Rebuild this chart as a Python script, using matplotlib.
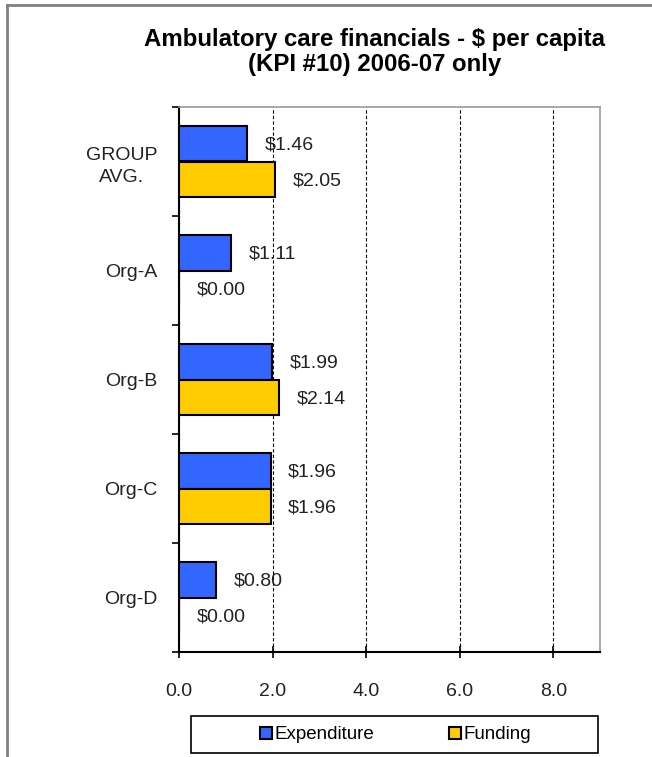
import numpy as np
import matplotlib.pyplot as plt
from matplotlib.lines import Line2D
from matplotlib.patches import Rectangle

categories = ["GROUP\nAVG.", "Org-A", "Org-B", "Org-C", "Org-D"]
expenditure = [1.46, 1.11, 1.99, 1.96, 0.80]
funding = [2.05, 0.00, 2.14, 1.96, 0.00]
series_names = ["Expenditure", "Funding"]
colors = ["#3366FF", "#FFCC00"]

plt.rcParams['font.family'] = ['Liberation Sans', 'DejaVu Sans']

fig = plt.figure(figsize=(6.52, 7.57), dpi=100)
ax = fig.add_axes([179/652, 1 - 652/757, 421/652, 545/757])

y = np.arange(len(categories))
h = 0.33
ax.barh(y - h/2, expenditure, height=h, color=colors[0], edgecolor='black', linewidth=1.5, zorder=3)
ax.barh(y + h/2, funding, height=h, color=colors[1], edgecolor='black', linewidth=1.5, zorder=3)

# value labels to the right of each bar
for i in range(len(categories)):
    ax.annotate("$%.2f" % expenditure[i], (expenditure[i], y[i] - h/2), xytext=(12.5, -1),
                textcoords='offset points', va='center', ha='left', fontsize=14, color='#222222', zorder=4)
    ax.annotate("$%.2f" % funding[i], (funding[i], y[i] + h/2), xytext=(12.5, -1),
                textcoords='offset points', va='center', ha='left', fontsize=14, color='#222222', zorder=4)

ax.set_xlim(0, 9)
ax.set_ylim(len(categories) - 0.5, -0.5)
ax.set_xticks([0, 2, 4, 6, 8])
ax.set_xticklabels(["0.0", "2.0", "4.0", "6.0", "8.0"], fontsize=14, color='#222222')
ax.xaxis.grid(True, linestyle=(0, (3, 2)), color='black', linewidth=0.8, zorder=0)
ax.tick_params(axis='x', direction='inout', length=8, width=1.2, pad=18)

ax.set_yticks(y)
ax.set_yticklabels(categories, fontsize=14, color='#222222')
for t in ax.get_yticklabels():
    t.set_multialignment('center')
    t.set_linespacing(1.4)
ax.tick_params(axis='y', length=0, pad=15.5)
ax.set_yticks(np.arange(len(categories) + 1) - 0.5, minor=True)
ax.tick_params(axis='y', which='minor', length=5, width=1.2, direction='out')

for s in ['left', 'bottom']:
    ax.spines[s].set_color('black')
    ax.spines[s].set_linewidth(1.5)
for s in ['top', 'right']:
    ax.spines[s].set_color('#999999')
    ax.spines[s].set_linewidth(1.2)

fig.text(0.574, 0.963, "Ambulatory care financials - $ per capita\n(KPI #10) 2006-07 only",
         ha='center', va='top', fontsize=17.3, fontweight='bold', linespacing=1.1)

handles = [Line2D([], [], marker='s', linestyle='none', markersize=8, markerfacecolor=c,
                  markeredgecolor='black', markeredgewidth=1.5) for c in colors]
leg = fig.legend(handles, series_names, loc='center', bbox_to_anchor=(395.5/652, 1 - 734.5/757),
                 ncol=2, fontsize=13.5, frameon=False,
                 handletextpad=0.15, columnspacing=4.0, handlelength=0.6)
fig.add_artist(Rectangle((191/652, 1 - 753/757), 407/652, 37/757, transform=fig.transFigure,
                         fill=False, edgecolor='black', linewidth=1.2))

# outer chart border (left and top only)
fig.add_artist(Line2D([7/652, 7/652], [0, 1 - 5/757], color='#808080', linewidth=2))
fig.add_artist(Line2D([7/652, 1], [1 - 5/757, 1 - 5/757], color='#808080', linewidth=2))

fig.savefig("out.png", dpi=100)
